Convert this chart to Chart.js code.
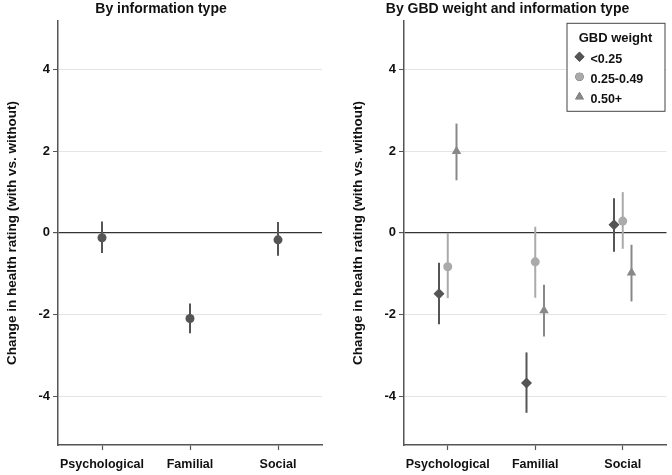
<!DOCTYPE html>
<html>
<head>
<meta charset="utf-8">
<script src="https://cdn.jsdelivr.net/npm/chart.js@4"></script>
<style>
  html, body { margin: 0; padding: 0; background: #fff; }
  .panel { position: absolute; top: 0; width: 336px; height: 475px; }
</style>
</head>
<body>
<div class="panel" style="left:0"><canvas id="left" width="336" height="475"></canvas></div>
<div class="panel" style="left:336px"><canvas id="right" width="336" height="475"></canvas></div>
<script>
// categories and tick labels
const categories = ['Psychological', 'Familial', 'Social']
const yTicks = [-4, -2, 0, 2, 4]

// left panel: overall estimate with 95% CI
const overallEst = [-0.12, -2.10, -0.17]
const overallLo  = [-0.49, -2.46, -0.56]
const overallHi  = [0.28, -1.73, 0.27]

// right panel: by GBD weight
const lowEst = [-1.49, -3.68, 0.20]
const lowLo  = [-2.24, -4.41, -0.46]
const lowHi  = [-0.73, -2.93, 0.85]

const midEst = [-0.83, -0.71, 0.29]
const midLo  = [-1.60, -1.59, -0.39]
const midHi  = [0.00, 0.15, 1.00]

const highEst = [2.00, -1.90, -0.98]
const highLo  = [1.29, -2.54, -1.68]
const highHi  = [2.68, -1.27, -0.29]

const FONT = '"Liberation Sans", Arial, sans-serif'

function pts(est, dodge){
    return est.map((v, i) => ({x: i + 1 + dodge, y: v}))
}

// draws the vertical CI line under each marker
const errorBars = {
    id: 'errorBars',
    beforeDatasetsDraw(chart){
        const ctx = chart.ctx
        const y = chart.scales.y
        chart.data.datasets.forEach((ds, d) => {
            const meta = chart.getDatasetMeta(d)
            ctx.save()
            ctx.strokeStyle = ds.borderColor
            ctx.lineWidth = 2
            meta.data.forEach((p, i) => {
                ctx.beginPath()
                ctx.moveTo(p.x, y.getPixelForValue(ds.lo[i]))
                ctx.lineTo(p.x, y.getPixelForValue(ds.hi[i]))
                ctx.stroke()
            })
            ctx.restore()
        })
    }
}

// boxed legend inside the plot (top right)
const boxLegend = {
    id: 'boxLegend',
    afterDraw(chart, args, opts){
        if(!opts.show) return
        const ctx = chart.ctx
        const a = chart.chartArea
        const w = 98, h = 88
        const x0 = a.right - w - 2, y0 = a.top + 2
        ctx.save()
        ctx.fillStyle = '#fff'
        ctx.fillRect(x0, y0, w, h)
        ctx.strokeStyle = '#444'
        ctx.lineWidth = 1
        ctx.strokeRect(x0 + 0.5, y0 + 0.5, w, h)
        ctx.fillStyle = '#111'
        ctx.font = 'bold 13px ' + FONT
        ctx.textAlign = 'center'
        ctx.textBaseline = 'middle'
        ctx.fillText(opts.title, x0 + w / 2, y0 + 16)
        ctx.textAlign = 'left'
        ctx.font = 'bold 12.5px ' + FONT
        chart.data.datasets.forEach((ds, i) => {
            const yy = y0 + 37 + i * 20
            Chart.helpers.drawPoint(ctx, {
                pointStyle: ds.pointStyle,
                radius: ds.pointRadius * 0.9,
                borderWidth: 0
            }, x0 + 13, yy - 3)
            ctx.fillStyle = ds.backgroundColor
            ctx.fill()
            ctx.fillStyle = '#111'
            ctx.fillText(ds.label, x0 + 24, yy)
        })
        ctx.restore()
    }
}

function makeOptions(title, padLeft, padRight, legend){
    return {
        responsive: false,
        animation: false,
        layout: { padding: { left: padLeft, right: padRight, top: 0, bottom: 0 } },
        plugins: {
            legend: { display: false },
            tooltip: { enabled: false },
            title: {
                display: true,
                text: title,
                color: '#111',
                font: { family: FONT, size: 14, weight: 'bold' },
                padding: { top: 1, bottom: 3 }
            },
            boxLegend: legend
        },
        scales: {
            x: {
                type: 'linear',
                min: 0.5,
                max: 3.5,
                afterBuildTicks: s => { s.ticks = categories.map((c, i) => ({value: i + 1})) },
                afterFit: s => { s.height = 30 },
                ticks: {
                    callback: v => categories[v - 1],
                    color: '#111',
                    font: { family: FONT, size: 12.5, weight: 'bold' },
                    padding: 7,
                    maxRotation: 0
                },
                grid: { drawOnChartArea: false, tickLength: 5, tickColor: '#555', tickWidth: 1.2 },
                border: { display: true, color: '#555', width: 1.5 }
            },
            y: {
                min: -5.2,
                max: 5.2,
                afterBuildTicks: s => { s.ticks = yTicks.map(v => ({value: v})) },
                afterFit: s => { s.width = 58 },
                ticks: {
                    color: '#111',
                    font: { family: FONT, size: 13, weight: 'bold' },
                    padding: 3
                },
                grid: {
                    color: c => c.tick && c.tick.value === 0 ? '#333' : '#e4e4e4',
                    lineWidth: c => c.tick && c.tick.value === 0 ? 1.2 : 1,
                    tickLength: 5,
                    tickColor: '#555'
                },
                border: { display: true, color: '#555', width: 1.5 },
                title: {
                    display: true,
                    text: 'Change in health rating (with vs. without)',
                    color: '#111',
                    font: { family: FONT, size: 13.5, weight: 'bold' },
                    padding: { top: 4, bottom: 0 }
                }
            }
        }
    }
}

new Chart(document.getElementById('left'), {
    type: 'scatter',
    data: {
        datasets: [{
            label: 'All',
            data: pts(overallEst, 0),
            lo: overallLo,
            hi: overallHi,
            pointStyle: 'circle',
            pointRadius: 4.5,
            backgroundColor: '#555',
            borderColor: '#555',
            borderWidth: 0
        }]
    },
    options: makeOptions('By information type', 0, 14, { show: false }),
    plugins: [errorBars, boxLegend]
})

new Chart(document.getElementById('right'), {
    type: 'scatter',
    data: {
        datasets: [{
            label: '<0.25',
            data: pts(lowEst, -0.1),
            lo: lowLo,
            hi: lowHi,
            pointStyle: 'rectRot',
            pointRadius: 5.5,
            backgroundColor: '#555',
            borderColor: '#555',
            borderWidth: 0
        }, {
            label: '0.25-0.49',
            data: pts(midEst, 0),
            lo: midLo,
            hi: midHi,
            pointStyle: 'circle',
            pointRadius: 4.5,
            backgroundColor: '#aaa',
            borderColor: '#aaa',
            borderWidth: 0
        }, {
            label: '0.50+',
            data: pts(highEst, 0.1),
            lo: highLo,
            hi: highHi,
            pointStyle: 'triangle',
            pointRadius: 5.5,
            backgroundColor: '#888',
            borderColor: '#888',
            borderWidth: 0
        }]
    },
    options: makeOptions('By GBD weight and information type', 10, 3, { show: true, title: 'GBD weight' }),
    plugins: [errorBars, boxLegend]
})
</script>
</body>
</html>
